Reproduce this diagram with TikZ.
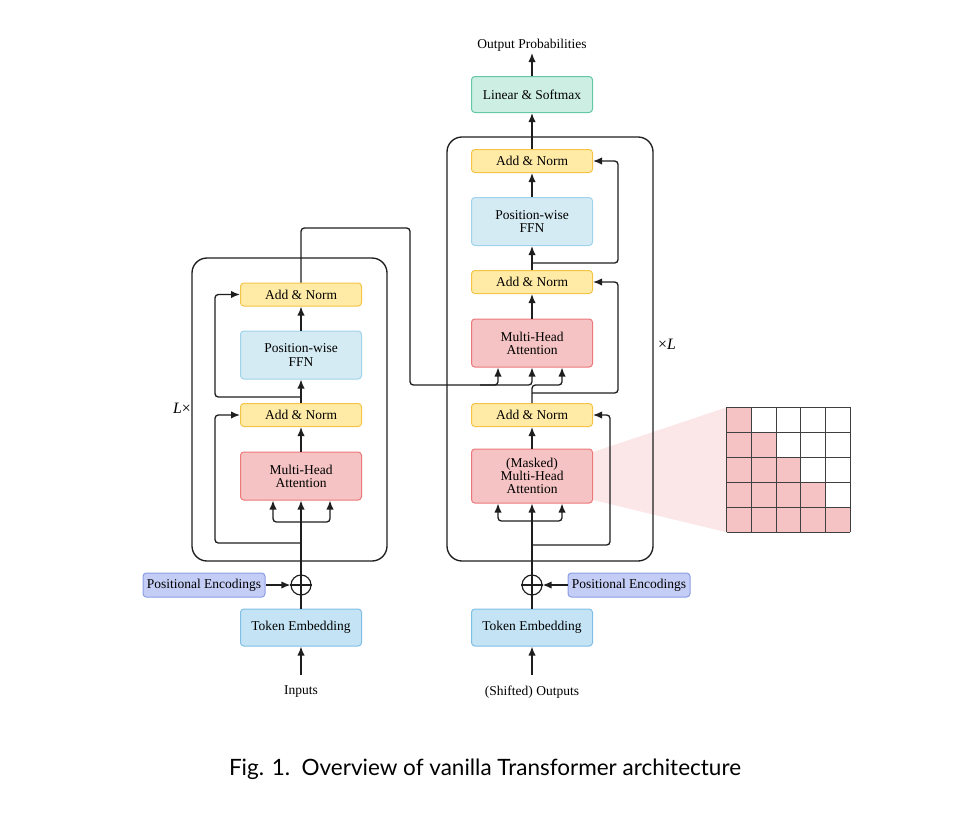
\documentclass[tikz,border=0pt]{standalone}
\usepackage{fontspec}
\setmainfont{Liberation Serif}
\newfontfamily\capfont{Lato}
\usetikzlibrary{arrows.meta,calc}
\definecolor{anF}{RGB}{255,234,166}\definecolor{anD}{RGB}{245,196,70}
\definecolor{ffF}{RGB}{212,235,243}\definecolor{ffD}{RGB}{160,210,236}
\definecolor{mhF}{RGB}{245,195,195}\definecolor{mhD}{RGB}{236,120,122}
\definecolor{lnF}{RGB}{205,238,226}\definecolor{lnD}{RGB}{100,200,168}
\definecolor{peF}{RGB}{196,205,245}\definecolor{peD}{RGB}{140,158,230}
\definecolor{teF}{RGB}{196,228,245}\definecolor{teD}{RGB}{128,190,230}
\definecolor{coneF}{RGB}{251,231,231}
\definecolor{lineC}{RGB}{30,30,30}
\begin{document}
\begin{tikzpicture}[x=0.6pt,y=-0.6pt,
  font=\fontsize{8.1}{7.9}\selectfont,
  box/.style={draw, rounded corners=2pt, line width=0.6pt, minimum width=72.6pt, align=center, inner sep=0pt},
  an/.style={box, fill=anF, draw=anD, minimum height=13.8pt},
  ffn/.style={box, fill=ffF, draw=ffD, minimum height=28.8pt},
  mha/.style={box, fill=mhF, draw=mhD, minimum height=28.8pt},
  lin/.style={box, fill=lnF, draw=lnD, minimum height=21.6pt},
  pe/.style={box, fill=peF, draw=peD, minimum height=14.4pt, minimum width=73.2pt},
  emb/.style={box, fill=teF, draw=teD, minimum height=22.2pt},
  plus/.style={draw=lineC, circle, minimum size=12pt, inner sep=0pt, line width=0.7pt},
  conn/.style={draw=lineC, line width=0.8pt, rounded corners=2pt},
  arr/.style={conn, -{Latex[length=5.4pt,width=4.4pt]}},
  frame/.style={draw=lineC, line width=0.8pt, rounded corners=9pt},
  lbl/.style={inner sep=0pt}
]
\useasboundingbox (0,0) rectangle (973,823);

% cone to mask matrix
\fill[coneF] (593,452) -- (726.7,407.3) -- (726.7,532.3) -- (593,500) -- cycle;

% frames
\draw[frame] (192,258) rectangle (387,561);
\draw[frame] (447,137) rectangle (653,561);

% encoder nodes
\node[an]  (ean2) at (301,294.5) {Add \& Norm};
\node[ffn] (effn) at (301,355) {Position-wise\\FFN};
\node[an]  (ean1) at (301,415) {Add \& Norm};
\node[mha] (emha) at (301,476) {Multi-Head\\Attention};
\node[emb] (eemb) at (301,627.5) {Token Embedding};
\node[pe]  (epe)  at (204,585) {Positional Encodings};
\node[plus] (eplus) at (301,585) {};
\draw[lineC, line width=0.7pt] (eplus.north) -- (eplus.south) (eplus.west) -- (eplus.east);
\node[lbl] (ein) at (301,692) {Inputs};
\node[lbl, font=\fontsize{9.5}{11}\selectfont] (elx) at (182,408) {\textit{L}×};

% decoder nodes
\node[an]  (dan3) at (532,161) {Add \& Norm};
\node[ffn] (dffn) at (532,221.5) {Position-wise\\FFN};
\node[an]  (dan2) at (532,282) {Add \& Norm};
\node[mha] (dmha) at (532,343) {Multi-Head\\Attention};
\node[an]  (dan1) at (532,415) {Add \& Norm};
\node[mha, minimum height=32.4pt] (dmmha) at (532,476) {(Masked)\\Multi-Head\\Attention};
\node[lin] (dlin) at (532,94.5) {Linear \& Softmax};
\node[emb] (demb) at (532,627.5) {Token Embedding};
\node[pe]  (dpe)  at (629,585) {Positional Encodings};
\node[plus] (dplus) at (532,585) {};
\draw[lineC, line width=0.7pt] (dplus.north) -- (dplus.south) (dplus.west) -- (dplus.east);
\node[lbl] (din) at (532,692) {(Shifted) Outputs};
\node[lbl] (dout) at (532,45) {Output Probabilities};
\node[lbl, font=\fontsize{9.5}{11}\selectfont] (dlx) at (667,344) {×\textit{L}};

% coordinates
\coordinate (ein0) at (301,675);
\coordinate (din0) at (532,675);
\coordinate (dout0) at (532,53);

% encoder connectors
\draw[arr] (ein0) -- (eemb.south);
\draw[conn] (eemb.north) -- (eplus.south);
\draw[arr] (epe.east) -- (eplus.west);
\draw[arr] (eplus.north) -- (emha.south);
\draw[arr] (301,522) -- (273,522) -- ($(emha.south)+(-28,0)$);
\draw[arr] (301,522) -- (330,522) -- ($(emha.south)+(29,0)$);
\draw[arr] (301,543) -- (215,543) -- (215,415) -- (ean1.west);
\draw[arr] (emha.north) -- (ean1.south);
\draw[arr] (ean1.north) -- (effn.south);
\draw[arr] (301,397) -- (215,397) -- (215,294.5) -- (ean2.west);
\draw[arr] (effn.north) -- (ean2.south);
\draw[arr] (ean2.north) -- (301,228) -- (410,228) -- (410,385) -- (532,385) -- (dmha.south);
\draw[arr] (480,385) -- (498,385) -- ($(dmha.south)+(-34,0)$);

% decoder connectors
\draw[arr] (din0) -- (demb.south);
\draw[conn] (demb.north) -- (dplus.south);
\draw[arr] (dpe.west) -- (dplus.east);
\draw[arr] (dplus.north) -- (dmmha.south);
\draw[arr] (532,521) -- (498,521) -- ($(dmmha.south)+(-34,0)$);
\draw[arr] (532,521) -- (562,521) -- ($(dmmha.south)+(30,0)$);
\draw[arr] (532,545) -- (610,545) -- (610,415) -- (dan1.east);
\draw[arr] (dmmha.north) -- (dan1.south);
\draw[arr] (dan1.north) -- (532,385) -- (562,385) -- ($(dmha.south)+(30,0)$);
\draw[arr] (532,393) -- (618,393) -- (618,282) -- (dan2.east);
\draw[arr] (dmha.north) -- (dan2.south);
\draw[arr] (dan2.north) -- (dffn.south);
\draw[arr] (532,263) -- (618,263) -- (618,161) -- (dan3.east);
\draw[arr] (dffn.north) -- (dan3.south);
\draw[arr] (dan3.north) -- (dlin.south);
\draw[arr] (dlin.north) -- (dout0);

% mask matrix
\foreach \r in {0,...,4}{
  \foreach \c in {0,...,\r}{
    \fill[mhF] ({726.7+24.66*\c},{407.3+25*\r}) rectangle ++(24.66,25);
  }
}
\foreach \i in {0,...,5}{
  \draw[lineC!85, line width=0.45pt] ({726.7+24.66*\i},407.3) -- ({726.7+24.66*\i},532.3);
  \draw[lineC!85, line width=0.45pt] (726.7,{407.3+25*\i}) -- (850,{407.3+25*\i});
}

% caption
\node[lbl, font=\capfont\fontsize{13.5}{15}\selectfont] (cap) at (485,769) {Fig. 1.\ \ Overview of vanilla Transformer architecture};
\end{tikzpicture}
\end{document}
